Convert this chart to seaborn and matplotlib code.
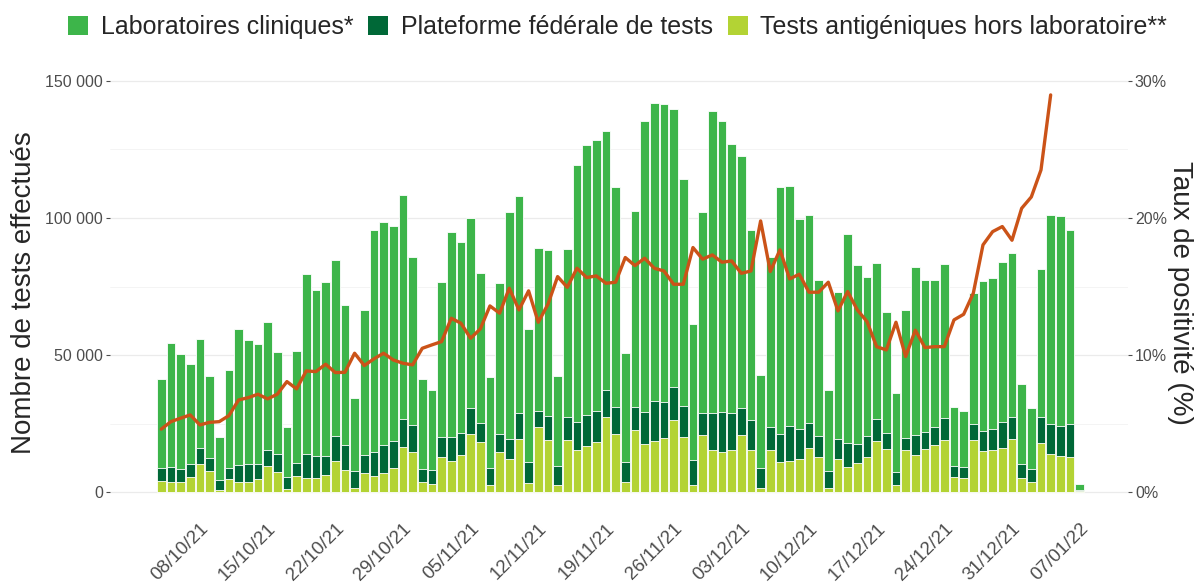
import matplotlib

matplotlib.use("Agg")

import matplotlib.pyplot as plt
import numpy as np
import pandas as pd
import seaborn as sns
from matplotlib.patches import Patch
from matplotlib.ticker import FuncFormatter, MultipleLocator


OUTPUT_FILE = "out.png"

# one bar per day, 04/10/21 -> 07/01/22
START_DATE = "2021-10-04"
END_DATE = "2022-01-07"

LABS = [
    32700, 45100, 41950, 36240, 39760, 30040, 15690, 35630, 49730, 45360,
    43780, 46820, 37450, 18120, 40740, 65660, 60560, 63230, 64200, 50950,
    26510, 52900, 80860, 81230, 78430, 81720, 61410, 32710, 29180, 56420,
    74540, 69430, 69190, 54720, 32950, 54960, 82450, 78920, 48640, 59460,
    60560, 32950, 61290, 93630, 98130, 98860, 94480, 80260, 39520, 71260,
    106280, 108590, 108590, 101170, 82570, 49610, 72960, 110290, 105910, 98010,
    91930, 69430, 33930, 62260, 89980, 87430, 76850, 75640, 57150, 29430,
    53500, 76240, 65180, 58000, 57150, 43900, 28580, 46570, 61290, 55210,
    53380, 56300, 21400, 20310, 47790, 54600, 55330, 58250, 59580, 29180,
    22370, 53630, 76370, 76490, 70770, 2100,
]
PLATFORM = [
    4500, 5720, 4620, 4990, 5840, 4500, 3770, 4130, 6080, 6450,
    5470, 5960, 6320, 4260, 4990, 8760, 7780, 7050, 9120, 9120,
    6320, 6570, 8760, 10210, 9970, 10210, 9610, 4990, 5110, 7300,
    8760, 8150, 9610, 6930, 6320, 6810, 7540, 9490, 7660, 5720,
    8760, 6930, 8150, 10210, 11550, 11310, 9850, 9730, 7540, 8630,
    11670, 14710, 13380, 11920, 11550, 9240, 8150, 13250, 14590, 13620,
    9970, 10940, 7300, 8270, 10090, 13010, 10940, 9360, 7420, 6450,
    7170, 8760, 6930, 7540, 7780, 5960, 4990, 4500, 7300, 6450,
    6690, 7900, 4010, 4260, 6080, 7300, 7540, 9360, 8030, 5110,
    4620, 9610, 10820, 11070, 12280, 500,
]
ANTIGEN = [
    4260, 3650, 3770, 5470, 10340, 7900, 850, 4860, 3890, 3890,
    4740, 9490, 7540, 1340, 5840, 5110, 5350, 6320, 11430, 8150,
    1460, 7050, 6080, 7050, 8760, 16420, 14840, 3650, 3040, 13010,
    11550, 13620, 21280, 18480, 2680, 14590, 12040, 19460, 3280, 23960,
    19090, 2680, 19210, 15440, 16780, 18360, 27480, 21280, 3650, 22620,
    17510, 18610, 19700, 26510, 20060, 2550, 20920, 15570, 14840, 15320,
    20790, 15320, 1700, 15440, 11190, 11310, 12040, 16050, 13010, 1460,
    12280, 9360, 10820, 13010, 18850, 15810, 2550, 15320, 13500, 15690,
    17270, 19090, 5720, 5110, 18970, 15200, 15440, 16290, 19580, 5110,
    3890, 18000, 13980, 13250, 12770, 300,
]
# taux de positivite (%), known up to 04/01/22
POSITIVITY = [
    4.6, 5.15, 5.4, 5.64, 4.91, 5.1, 5.15, 5.59, 6.73, 6.9,
    7.15, 6.81, 7.15, 8.07, 7.54, 8.85, 8.8, 9.34, 8.73, 8.75,
    10.14, 9.24, 9.73, 10.14, 9.65, 9.41, 9.29, 10.5, 10.75, 10.99,
    12.69, 12.33, 11.23, 11.91, 13.59, 13.06, 14.88, 13.3, 14.69, 12.4,
    13.71, 15.73, 14.95, 16.34, 15.66, 15.78, 15.24, 15.32, 17.12, 16.53,
    17.07, 16.34, 16.14, 15.17, 15.17, 17.85, 17.0, 17.31, 16.78, 16.87,
    15.97, 16.14, 19.79, 16.1, 17.68, 15.56, 15.9, 14.59, 14.59, 15.32,
    13.23, 14.64, 13.3, 12.45, 10.62, 10.38, 12.4, 9.9, 11.82, 10.55,
    10.62, 10.62, 12.57, 12.98, 14.52, 18.04, 19.01, 19.38, 18.38, 20.71,
    21.54, 23.51, 28.98,
]

TICK_LABELS = [
    "08/10/21", "15/10/21", "22/10/21", "29/10/21", "05/11/21", "12/11/21",
    "19/11/21", "26/11/21", "03/12/21", "10/12/21", "17/12/21", "24/12/21",
    "31/12/21", "07/01/22",
]

SERIES_NAMES = [
    "Laboratoires cliniques*",
    "Plateforme fédérale de tests",
    "Tests antigéniques hors laboratoire**",
]
SERIES_COLORS = ["#3DB54A", "#006837", "#B3D334"]
LINE_COLOR = "#CB5318"
TEXT_GREY = "#4D4D4D"

Y_MAX_TESTS = 150000
Y_MAX_RATE = 30


def build_frame() -> pd.DataFrame:
    days = pd.date_range(START_DATE, END_DATE, freq="D")
    df = pd.DataFrame(
        {
            "jour": days.strftime("%d/%m/%y"),
            "labs": LABS,
            "plateforme": PLATFORM,
            "antigen": ANTIGEN,
        }
    )
    df["pos"] = np.arange(len(df))
    df["antigen_top"] = df["antigen"]
    df["plateforme_top"] = df["antigen"] + df["plateforme"]
    df["total"] = df["plateforme_top"] + df["labs"]
    return df


def plot(df: pd.DataFrame) -> None:
    sns.set_style("white")
    plt.rcParams["font.family"] = ["Liberation Sans", "DejaVu Sans"]

    fig = plt.figure(figsize=(11.97, 5.87), dpi=100)
    ax = fig.add_axes([110 / 1197, 1 - 511.5 / 587, 1018 / 1197, 437.4 / 587])

    order = list(df["jour"])
    # stacked bars: draw cumulative heights from the top down
    for col, color in zip(["total", "plateforme_top", "antigen_top"], SERIES_COLORS):
        sns.barplot(
            data=df,
            x="jour",
            y=col,
            order=order,
            color=color,
            saturation=1,
            width=0.9,
            edgecolor="white",
            linewidth=0.6,
            errorbar=None,
            ax=ax,
        )

    y_lo, y_hi = -7020, 152495
    ax.set_ylim(y_lo, y_hi)
    ax.set_xlim(-5.3, 100)
    ax.yaxis.set_major_locator(MultipleLocator(50000))
    ax.yaxis.set_minor_locator(MultipleLocator(25000))
    ax.yaxis.set_major_formatter(FuncFormatter(lambda v, _: f"{int(v):,}".replace(",", " ")))
    ax.grid(which="major", axis="y", color="#EBEBEB", linewidth=0.9)
    ax.grid(which="minor", axis="y", color="#F3F3F3", linewidth=0.6)
    ax.grid(False, axis="x")
    ax.set_axisbelow(True)

    tick_pos = [order.index(lbl) for lbl in TICK_LABELS]
    ax.set_xticks(tick_pos)
    ax.set_xticklabels(TICK_LABELS, rotation=45, ha="right", va="top", rotation_mode="anchor")
    ax.tick_params(axis="x", length=3, width=0.8, color=TEXT_GREY, labelsize=13.5,
                   labelcolor=TEXT_GREY, pad=3)
    ax.tick_params(axis="y", which="major", length=3, width=0.8, color=TEXT_GREY,
                   labelsize=11.5, labelcolor=TEXT_GREY, pad=2)
    ax.tick_params(axis="y", which="minor", length=0)
    ax.set_xlabel("")
    ax.set_ylabel("Nombre de tests effectués", fontsize=20, va="center", ha="center")
    ax.yaxis.set_label_coords((24 - 110) / 1018, 0.5)
    for side in ax.spines.values():
        side.set_visible(False)

    ax2 = ax.twinx()
    rate = pd.DataFrame({"pos": df["pos"][: len(POSITIVITY)], "taux": POSITIVITY})
    sns.lineplot(data=rate, x="pos", y="taux", color=LINE_COLOR, linewidth=2.4, ax=ax2)
    ax2.set_ylim(y_lo * Y_MAX_RATE / Y_MAX_TESTS, y_hi * Y_MAX_RATE / Y_MAX_TESTS)
    ax2.set_yticks([0, 10, 20, 30])
    ax2.yaxis.set_major_formatter(FuncFormatter(lambda v, _: f"{int(v)}%"))
    ax2.tick_params(axis="y", length=3, width=0.8, color=TEXT_GREY, labelsize=11.5,
                    labelcolor=TEXT_GREY, pad=2)
    ax2.grid(False)
    ax2.set_ylabel("Taux de positivité (%)", fontsize=20, rotation=270,
                   va="center", ha="center")
    ax2.yaxis.set_label_coords((1180 - 110) / 1018, 0.5)
    ax2.set_xlim(-5.3, 100)
    for side in ax2.spines.values():
        side.set_visible(False)

    handles = [Patch(facecolor=c, edgecolor="none") for c in SERIES_COLORS]
    fig.legend(
        handles,
        SERIES_NAMES,
        loc="center",
        bbox_to_anchor=(617.5 / 1197, 1 - 27 / 587),
        ncol=3,
        frameon=False,
        fontsize=18,
        handlelength=0.8,
        handleheight=0.8,
        handletextpad=0.5,
        columnspacing=0.6,
    )

    fig.savefig(OUTPUT_FILE, dpi=100)
    plt.close(fig)


def main() -> None:
    df = build_frame()
    plot(df)


if __name__ == "__main__":
    main()
